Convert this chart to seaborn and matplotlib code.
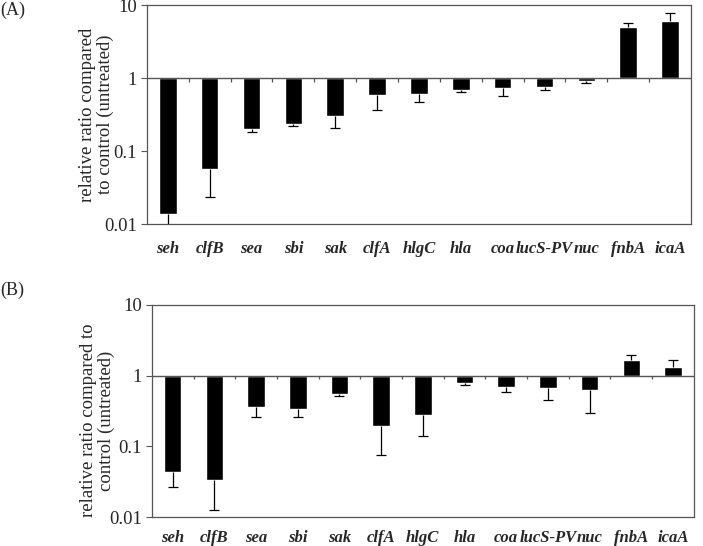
import numpy as np
import pandas as pd
import matplotlib
matplotlib.use('Agg')
import matplotlib.pyplot as plt
import seaborn as sns

sns.set_style("white")
plt.rcParams['font.family'] = ['Liberation Serif', 'DejaVu Serif']

# --- data ---
genes = ['seh', 'clfB', 'sea', 'sbi', 'sak', 'clfA', 'hlgC', 'hla', 'coa',
         'lucS-PV', 'nuc', 'fnbA', 'icaA']

# panel A: ratio and end of the (one-sided) error bar
ratio_a = [0.0138, 0.057, 0.20, 0.232, 0.305, 0.58, 0.60, 0.685, 0.72, 0.76, 0.91, 4.95, 6.1]
err_a = [0.0095, 0.0232, 0.184, 0.222, 0.205, 0.36, 0.47, 0.643, 0.57, 0.685, 0.855, 5.72, 7.77]

# panel B
ratio_b = [0.044, 0.033, 0.355, 0.343, 0.555, 0.197, 0.276, 0.80, 0.70, 0.66, 0.62, 1.69, 1.33]
err_b = [0.027, 0.0126, 0.261, 0.261, 0.52, 0.076, 0.14, 0.73, 0.586, 0.456, 0.294, 1.97, 1.65]

ytick_vals = [0.01, 0.1, 1, 10]
ytick_labels = ['0.01', '0.1', '1', '10']

FRAME = '#555555'


def draw_panel(ax, ratio, err, ylabel, label_xy, tick_pad):
    df = pd.DataFrame({'gene': genes, 'logr': np.log10(ratio), 'loge': np.log10(err)})
    sns.barplot(data=df, x='gene', y='logr', color='black', width=0.42,
                saturation=1, ax=ax, errorbar=None)
    # one-sided error bars, pointing away from 1
    x = np.arange(len(genes))
    ax.vlines(x, df['logr'], df['loge'], color='black', lw=0.9, zorder=3)
    ax.plot(x, df['loge'], ls='none', marker='_', ms=7, mew=0.9, color='black', zorder=3)

    ax.set_ylim(-2, 1)
    ax.set_xlim(-0.5, len(genes) - 0.5)
    ax.set_yticks(np.log10(ytick_vals))
    ax.set_yticklabels(ytick_labels, fontsize=13.5)
    ax.set_xticks(x)
    ax.set_xticklabels(genes, fontsize=12, fontweight='bold', fontstyle='italic')
    ax.tick_params(axis='x', length=0, pad=tick_pad)
    ax.tick_params(axis='y', length=4, width=0.8, color=FRAME, direction='out', pad=3, left=True)

    # baseline at 1 with small downward ticks between categories
    ax.axhline(0, color=FRAME, lw=1.0, zorder=4)
    ax.vlines(x[1:] - 0.5, -0.05, 0, color=FRAME, lw=0.9, zorder=4)

    for s in ax.spines.values():
        s.set_color(FRAME)
        s.set_linewidth(0.9)
        s.set_visible(True)

    ax.set_xlabel('')
    ax.set_ylabel(ylabel, fontsize=13.5, linespacing=1.05)
    ax.yaxis.set_label_coords(*label_xy)


fig = plt.figure(figsize=(7.03, 5.46), dpi=100)
ax_a = fig.add_axes([0.209, 0.5897, 0.774, 0.401])
ax_b = fig.add_axes([0.216, 0.0531, 0.771, 0.3883])

draw_panel(ax_a, ratio_a, err_a, 'relative ratio compared\nto control (untreated)',
           (-0.061, 0.5), 12)
draw_panel(ax_b, ratio_b, err_b, 'relative ratio compared to\ncontrol (untreated)',
           (-0.068, 0.455), 9)

fig.text(0.0, 1 - 10 / 546, '(A)', fontsize=13, va='center', ha='left')
fig.text(0.0, 1 - 290 / 546, '(B)', fontsize=13, va='center', ha='left')

fig.savefig('out.png', dpi=100)
